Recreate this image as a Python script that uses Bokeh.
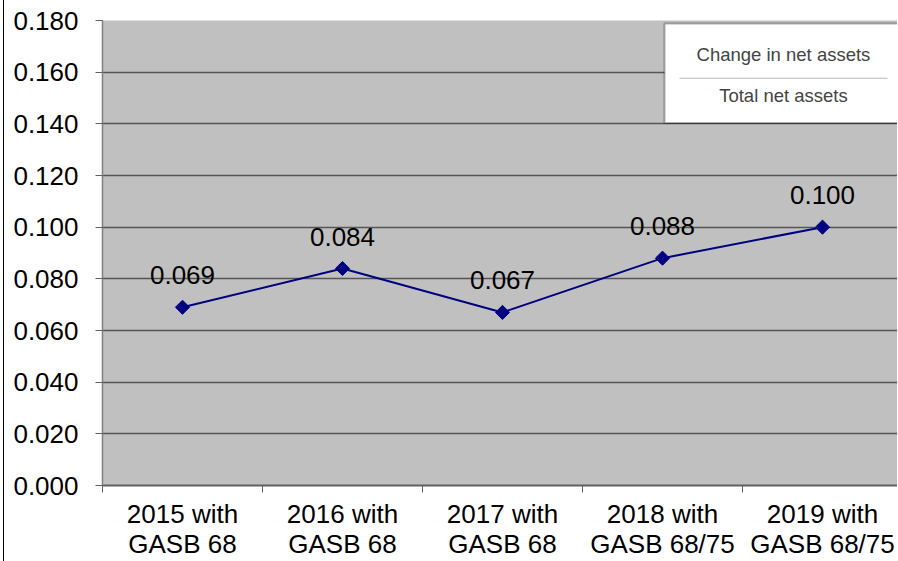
import numpy as np
from bokeh.plotting import figure
from bokeh.models import (Range1d, FixedTicker, NumeralTickFormatter, BoxAnnotation,
                          Label, ColumnDataSource, LabelSet)
from bokeh.embed import file_html
from bokeh.resources import INLINE
from bokeh.core.properties import value

# ---- data ----
categories = ["2015 with\nGASB 68", "2016 with\nGASB 68", "2017 with\nGASB 68",
              "2018 with\nGASB 68/75", "2019 with\nGASB 68/75"]
ratios = [0.069, 0.084, 0.067, 0.088, 0.100]
y_ticks = [0.0, 0.02, 0.04, 0.06, 0.08, 0.10, 0.12, 0.14, 0.16, 0.18]
legend_top_text = "Change in net assets"
legend_bottom_text = "Total net assets"

FONT = "Liberation Sans"
centers = [i + 0.5 for i in range(len(categories))]
bounds = list(range(len(categories) + 1))

src = ColumnDataSource(dict(x=centers, y=ratios, lbl=["{:.3f}".format(v) for v in ratios]))

p = figure(width=894, height=561, output_backend="svg", toolbar_location=None,
           x_range=Range1d(0, 4.975), y_range=Range1d(0, 0.18),
           min_border_left=98, min_border_right=0, min_border_top=20, min_border_bottom=75,
           styles={"margin-left": "3px", "border-left": "1px solid black"})
p.background_fill_color = "#C0C0C0"
p.border_fill_color = "white"
p.outline_line_color = None

p.xgrid.visible = False
p.ygrid.ticker = FixedTicker(ticks=y_ticks)
p.ygrid.grid_line_color = "#555555"
p.ygrid.grid_line_width = 1.5

# y axis
ya = p.yaxis[0]
ya.ticker = FixedTicker(ticks=y_ticks)
ya.formatter = NumeralTickFormatter(format="0.000")
ya.major_label_text_font = FONT
ya.major_label_text_font_size = "26px"
ya.major_label_text_color = "black"
ya.major_tick_out = 7
ya.major_tick_in = 0
ya.minor_tick_line_color = None
ya.axis_line_color = "#808080"
ya.axis_line_width = 1.5
ya.major_tick_line_color = "#606060"
ya.major_label_standoff = 17

# x axis: labels at category centres, ticks at category boundaries
xa = p.xaxis[0]
xa.ticker = FixedTicker(ticks=centers, minor_ticks=bounds)
xa.major_label_overrides = {c: lab for c, lab in zip(centers, categories)}
xa.major_label_text_font = FONT
xa.major_label_text_font_size = "26px"
xa.major_label_text_line_height = 1.0
xa.major_label_text_color = "black"
xa.major_tick_out = 0
xa.major_tick_in = 0
xa.minor_tick_out = 7
xa.minor_tick_in = 0
xa.minor_tick_line_color = "#606060"
xa.axis_line_color = "#606060"
xa.axis_line_width = 2
xa.major_label_standoff = 6

# series
p.line("x", "y", source=src, line_color="#000080", line_width=2)
p.scatter("x", "y", source=src, marker="square", angle=np.pi / 4, size=10,
          fill_color="#000080", line_color="#000080")
p.add_layout(LabelSet(x="x", y="y", text="lbl", source=src, y_offset=32,
                      text_align="center", text_baseline="middle",
                      text_font=value(FONT), text_font_size="26px", text_color="black"))

# legend-like box
box = BoxAnnotation(left=3.5125, right=5.3, top=0.1788, bottom=0.1403,
                    fill_color="white", fill_alpha=1.0, line_color="black", line_width=2)
p.add_layout(box)
p.add_layout(BoxAnnotation(left=3.606, right=4.906, top=0.15764, bottom=0.15764,
                           fill_alpha=0, line_color="#808080", line_width=1))
p.add_layout(Label(x=4.256, y=0.1669, text=legend_top_text, text_align="center",
                   text_baseline="middle", text_font=FONT, text_font_size="18.5px"))
p.add_layout(Label(x=4.256, y=0.1511, text=legend_bottom_text, text_align="center",
                   text_baseline="middle", text_font=FONT, text_font_size="18.5px"))

open("out.html", "w").write(file_html(p, INLINE))
